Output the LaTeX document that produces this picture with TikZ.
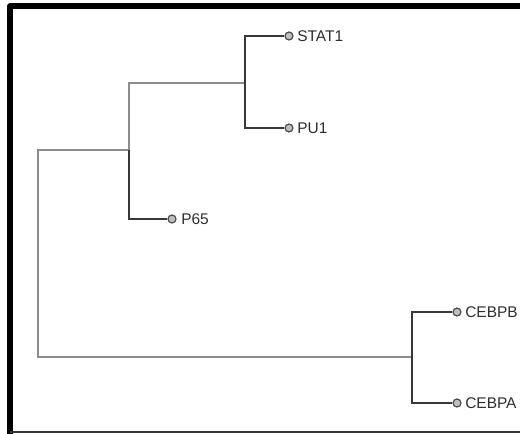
\documentclass[tikz,border=0pt]{standalone}
\usepackage{fontspec}
\setmainfont{Liberation Sans}
\begin{document}
\begin{tikzpicture}[x=0.75pt,y=-0.75pt,
  thinbr/.style={draw=black!45,line width=0.9pt},
  thickbr/.style={draw=black!78,line width=2.1pt},
  leaf/.style={circle,draw=black!70,fill=black!25,line width=0.9pt,inner sep=0pt,minimum size=6pt},
  lbl/.style={anchor=west,inner sep=0pt,text=black!82,font=\fontsize{11.6}{13}\selectfont},
  frame/.style={draw=black,line width=4.2pt,line join=round}]
\useasboundingbox (0,0) rectangle (520,434);
% frame
\draw[frame] (10,434) -- (10,6) -- (524,6);
\draw[draw=black!80,line width=1.2pt] (10,432) -- (520,432);
% internal coordinates
\coordinate (rt) at (38,150);
\coordinate (rb) at (38,357);
\coordinate (n1) at (129,150);
\coordinate (n1t) at (129,83);
\coordinate (n1b) at (129,219);
\coordinate (n2) at (245,83);
\coordinate (n2t) at (245,36);
\coordinate (n2b) at (245,128);
\coordinate (n3) at (412,357);
\coordinate (n3t) at (412,312);
\coordinate (n3b) at (412,403);
% leaves
\node[leaf] (stat1) at (289,36) {};
\node[leaf] (pu1) at (289,128) {};
\node[leaf] (p65) at (172,219) {};
\node[leaf] (cebpb) at (457,312) {};
\node[leaf] (cebpa) at (457,403) {};
\node[lbl] (tstat1) at (297,36) {STAT1};
\node[lbl] (tpu1) at (297,128) {PU1};
\node[lbl] (tp65) at (181,219) {P65};
\node[lbl] (tcebpb) at (465,312) {CEBPB};
\node[lbl] (tcebpa) at (465,403) {CEBPA};
% thin branches
\draw[thinbr] (n1) -- (rt) -- (rb) -- (n3);
\draw[thinbr] (n1) -- (n1t) -- (n2);
% thick branches
\draw[thickbr] (stat1) -| (n2t) -- (n2b) -- (pu1);
\draw[thickbr] (n1) -- (n1b) -- (p65);
\draw[thickbr] (cebpb) -| (n3t) -- (n3b) -- (cebpa);
\end{tikzpicture}
\end{document}
